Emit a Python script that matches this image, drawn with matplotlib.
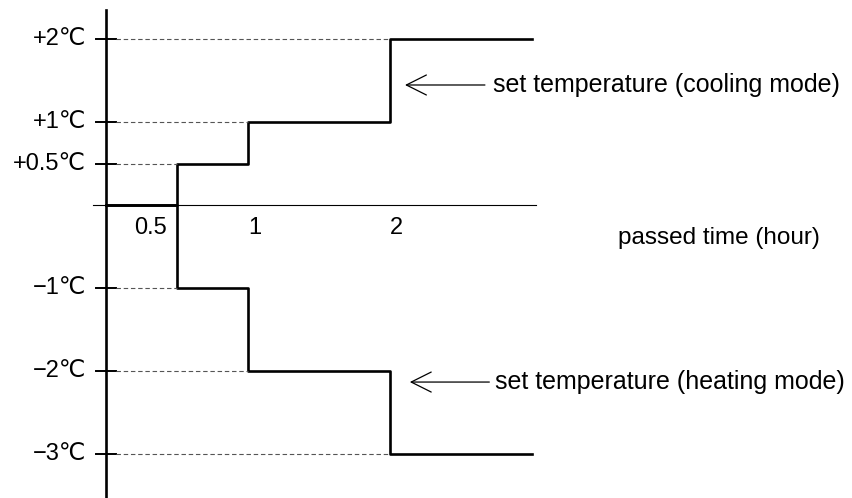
import matplotlib.pyplot as plt

# hours at which the set temperature changes (last value = end of chart)
times = [0, 0.5, 1, 2, 3]
cooling = [0, 0.5, 1, 2]
heating = [0, -1, -2, -3]

tick_levels = [2, 1, 0.5, -1, -2, -3]
tick_labels = ['+2\u2103', '+1\u2103', '+0.5\u2103', '\u22121\u2103', '\u22122\u2103', '\u22123\u2103']
time_labels = ['0.5', '1', '2']

plt.rcParams['font.family'] = ['Liberation Sans', 'DejaVu Sans']

fig = plt.figure(figsize=(8.52, 4.98), dpi=100)
ax = fig.add_axes([0, 0, 1, 1])
ax.set_xlim(-0.746, 5.254)
ax.set_ylim(-3.53, 2.47)
ax.axis('off')

# axes drawn by hand
ax.plot([0, 0], [-3.53, 2.35], color='black', lw=1.9)
ax.plot([-0.09, 3.03], [0, 0], color='black', lw=0.8)

# step lines
for series in (cooling, heating):
    ax.step(times, series + [series[-1]], where='post', color='black', lw=1.9)

# ticks, dashed guides and labels
for level, label in zip(tick_levels, tick_labels):
    series = cooling if level > 0 else heating
    t_start = times[series.index(level)]
    ax.plot([-0.07, 0.07], [level, level], color='black', lw=1.4)
    ax.plot([0.07, t_start], [level, level], color='#555555', lw=0.8,
            dashes=(4, 2.5))
    ax.text(-0.14, level, label, ha='right', va='center', fontsize=17)

for t, label in zip([0.317, 1.049, 2.049], time_labels):
    ax.text(t, -0.277, label, ha='center', va='center', fontsize=17)

ax.text(3.606, -0.40, 'passed time (hour)', ha='left', va='center', fontsize=17.5)

# annotations
arrow = dict(arrowstyle='->,head_length=1.2,head_width=0.6', lw=0.9,
             color='black', mutation_scale=12, shrinkA=0, shrinkB=0)
ax.annotate('', xy=(2.106, 1.446), xytext=(2.669, 1.446), arrowprops=arrow)
ax.text(2.725, 1.446, 'set temperature (cooling mode)', ha='left',
        va='center', fontsize=18)
ax.annotate('', xy=(2.14, -2.133), xytext=(2.70, -2.133), arrowprops=arrow)
ax.text(2.739, -2.133, 'set temperature (heating mode)', ha='left',
        va='center', fontsize=18)

fig.savefig('out.png', dpi=100)
